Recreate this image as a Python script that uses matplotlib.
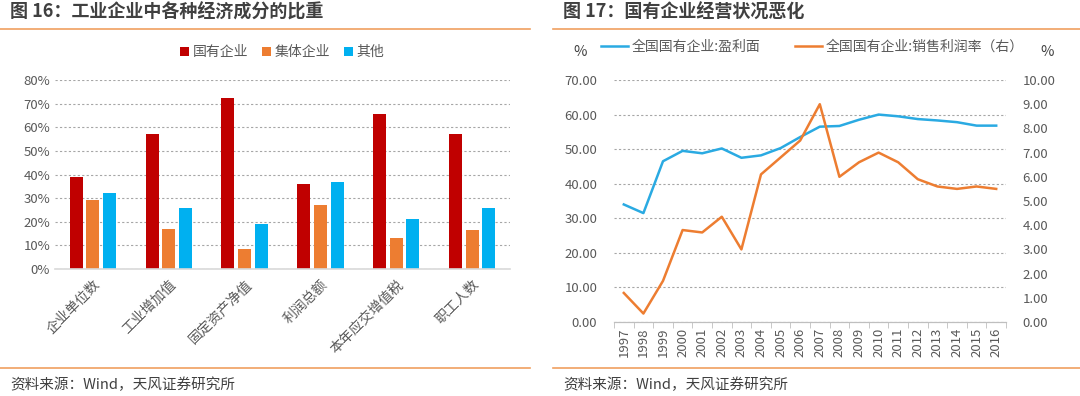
import matplotlib
matplotlib.use("Agg")
import matplotlib.pyplot as plt
import numpy as np
from matplotlib.lines import Line2D

plt.rcParams["font.family"] = ["Noto Sans CJK SC", "DejaVu Sans"]

# chart 16 data
categories = ["企业单位数", "工业增加值", "固定资产净值", "利润总额", "本年应交增值税", "职工人数"]
state_owned = [39, 57, 72.5, 36, 65.5, 57]
collective = [29, 17, 8.5, 27, 13, 16.7]
others = [32, 26, 19, 37, 21, 26]

# chart 17 data
years = [str(y) for y in range(1997, 2017)]
profit_share = [34.0, 31.5, 46.5, 49.5, 48.8, 50.2, 47.5, 48.2, 50.3, 53.5,
                56.5, 56.7, 58.5, 60.0, 59.5, 58.7, 58.3, 57.8, 56.8, 56.8]
sales_margin = [1.2, 0.35, 1.7, 3.8, 3.7, 4.35, 3.0, 6.1, 6.8, 7.5,
                9.0, 6.0, 6.6, 7.0, 6.6, 5.9, 5.6, 5.5, 5.6, 5.5]

RED = "#C00000"
ORANGE = "#ED7D31"
BLUE = "#00B0F0"
LBLUE = "#2AAAE2"
GRID = "#A6A6A6"
TXT = "#595959"

fig = plt.figure(figsize=(10.8, 3.96), dpi=100)

# titles, rules, sources
fig.text(10 / 1080, 1 - 12 / 396, "图 16：工业企业中各种经济成分的比重", fontsize=13,
         fontweight="bold", color="#404040", va="center")
fig.text(563 / 1080, 1 - 12 / 396, "图 17：国有企业经营状况恶化", fontsize=13,
         fontweight="bold", color="#404040", va="center")
for x0, x1 in [(0, 530), (553, 1080)]:
    fig.add_artist(Line2D([x0 / 1080, x1 / 1080], [1 - 29 / 396] * 2, color="#F0A060", lw=1.2))
    fig.add_artist(Line2D([x0 / 1080, x1 / 1080], [1 - 368 / 396] * 2, color="#F0A060", lw=1.2))
fig.text(10 / 1080, 1 - 385 / 396, "资料来源：Wind，天风证券研究所", fontsize=10.5, color="#404040", va="center")
fig.text(563 / 1080, 1 - 385 / 396, "资料来源：Wind，天风证券研究所", fontsize=10.5, color="#404040", va="center")

# ---- left chart
ax = fig.add_axes([55 / 1080, 1 - 269 / 396, 455 / 1080, 189 / 396])
x = np.arange(len(categories))
w = 0.17
ax.bar(x - 0.22, state_owned, w, color=RED, label="国有企业")
ax.bar(x, collective, w, color=ORANGE, label="集体企业")
ax.bar(x + 0.22, others, w, color=BLUE, label="其他")
ax.set_xlim(-0.5, len(categories) - 0.5)
ax.set_ylim(0, 80)
ax.set_yticks(range(0, 81, 10))
ax.set_yticklabels([f"{v}%" for v in range(0, 81, 10)])
ax.set_xticks(x)
ax.set_xticklabels(categories, rotation=45, ha="right", rotation_mode="anchor")
ax.yaxis.grid(True, linestyle=(0, (2, 2)), color=GRID, lw=0.8)
ax.set_axisbelow(True)
for s in ["top", "right", "left"]:
    ax.spines[s].set_visible(False)
ax.spines["bottom"].set_color("#D9D9D9")
ax.spines["bottom"].set_linewidth(1.2)
ax.tick_params(axis="both", length=0, colors=TXT, labelsize=9.5)
ax.tick_params(axis="x", pad=6, labelsize=10)
ax.legend(loc="center", bbox_to_anchor=(0.5, (269 - 52) / 189), ncol=3, frameon=False,
          fontsize=10, handlelength=0.6, handleheight=0.6, handletextpad=0.3, columnspacing=1.0,
          labelcolor=TXT)

# ---- right chart
ax1 = fig.add_axes([614 / 1080, 1 - 322 / 396, 392 / 1080, 242 / 396])
xi = np.arange(len(years))
ax1.plot(xi, profit_share, color=LBLUE, lw=1.8, label="全国国有企业:盈利面")
ax1.set_xlim(-0.5, len(years) - 0.5)
ax1.set_ylim(0, 70)
ax1.set_yticks(range(0, 71, 10))
ax1.set_yticklabels([f"{v:.2f}" for v in range(0, 71, 10)])
ax1.yaxis.grid(True, linestyle=(0, (2, 2)), color=GRID, lw=0.8)
ax1.set_xticks(xi)
ax1.set_xticklabels(years, rotation=90)
ax1.set_xticks(np.arange(-0.5, len(years), 1), minor=True)
ax1.tick_params(axis="x", which="major", length=0, colors=TXT, labelsize=9.5, pad=4)
ax1.tick_params(axis="x", which="minor", length=4, color="#BFBFBF", direction="out")
ax1.tick_params(axis="y", length=0, colors=TXT, labelsize=9.5, pad=12)

ax2 = ax1.twinx()
ax2.plot(xi, sales_margin, color=ORANGE, lw=1.8, label="全国国有企业:销售利润率（右）")
ax2.set_ylim(0, 10)
ax2.set_yticks(range(0, 11))
ax2.set_yticklabels([f"{v:.2f}" for v in range(0, 11)])
ax2.tick_params(axis="y", length=0, colors=TXT, labelsize=9.5, pad=12)

for a in (ax1, ax2):
    for s in ["top", "right", "left"]:
        a.spines[s].set_visible(False)
    a.spines["bottom"].set_color("#BFBFBF")

fig.text(580 / 1080, 1 - 52 / 396, "%", fontsize=10.5, color="#404040", ha="center", va="center")
fig.text(1047 / 1080, 1 - 52 / 396, "%", fontsize=10.5, color="#404040", ha="center", va="center")

h1, l1 = ax1.get_legend_handles_labels()
h2, l2 = ax2.get_legend_handles_labels()
fig.legend(h1 + h2, l1 + l2, loc="center", bbox_to_anchor=(812 / 1080, 1 - 47 / 396), ncol=2,
           frameon=False, fontsize=10, handlelength=2.0, handletextpad=0.2, columnspacing=2.5,
           labelcolor=TXT)

fig.savefig("out.png", dpi=100)
